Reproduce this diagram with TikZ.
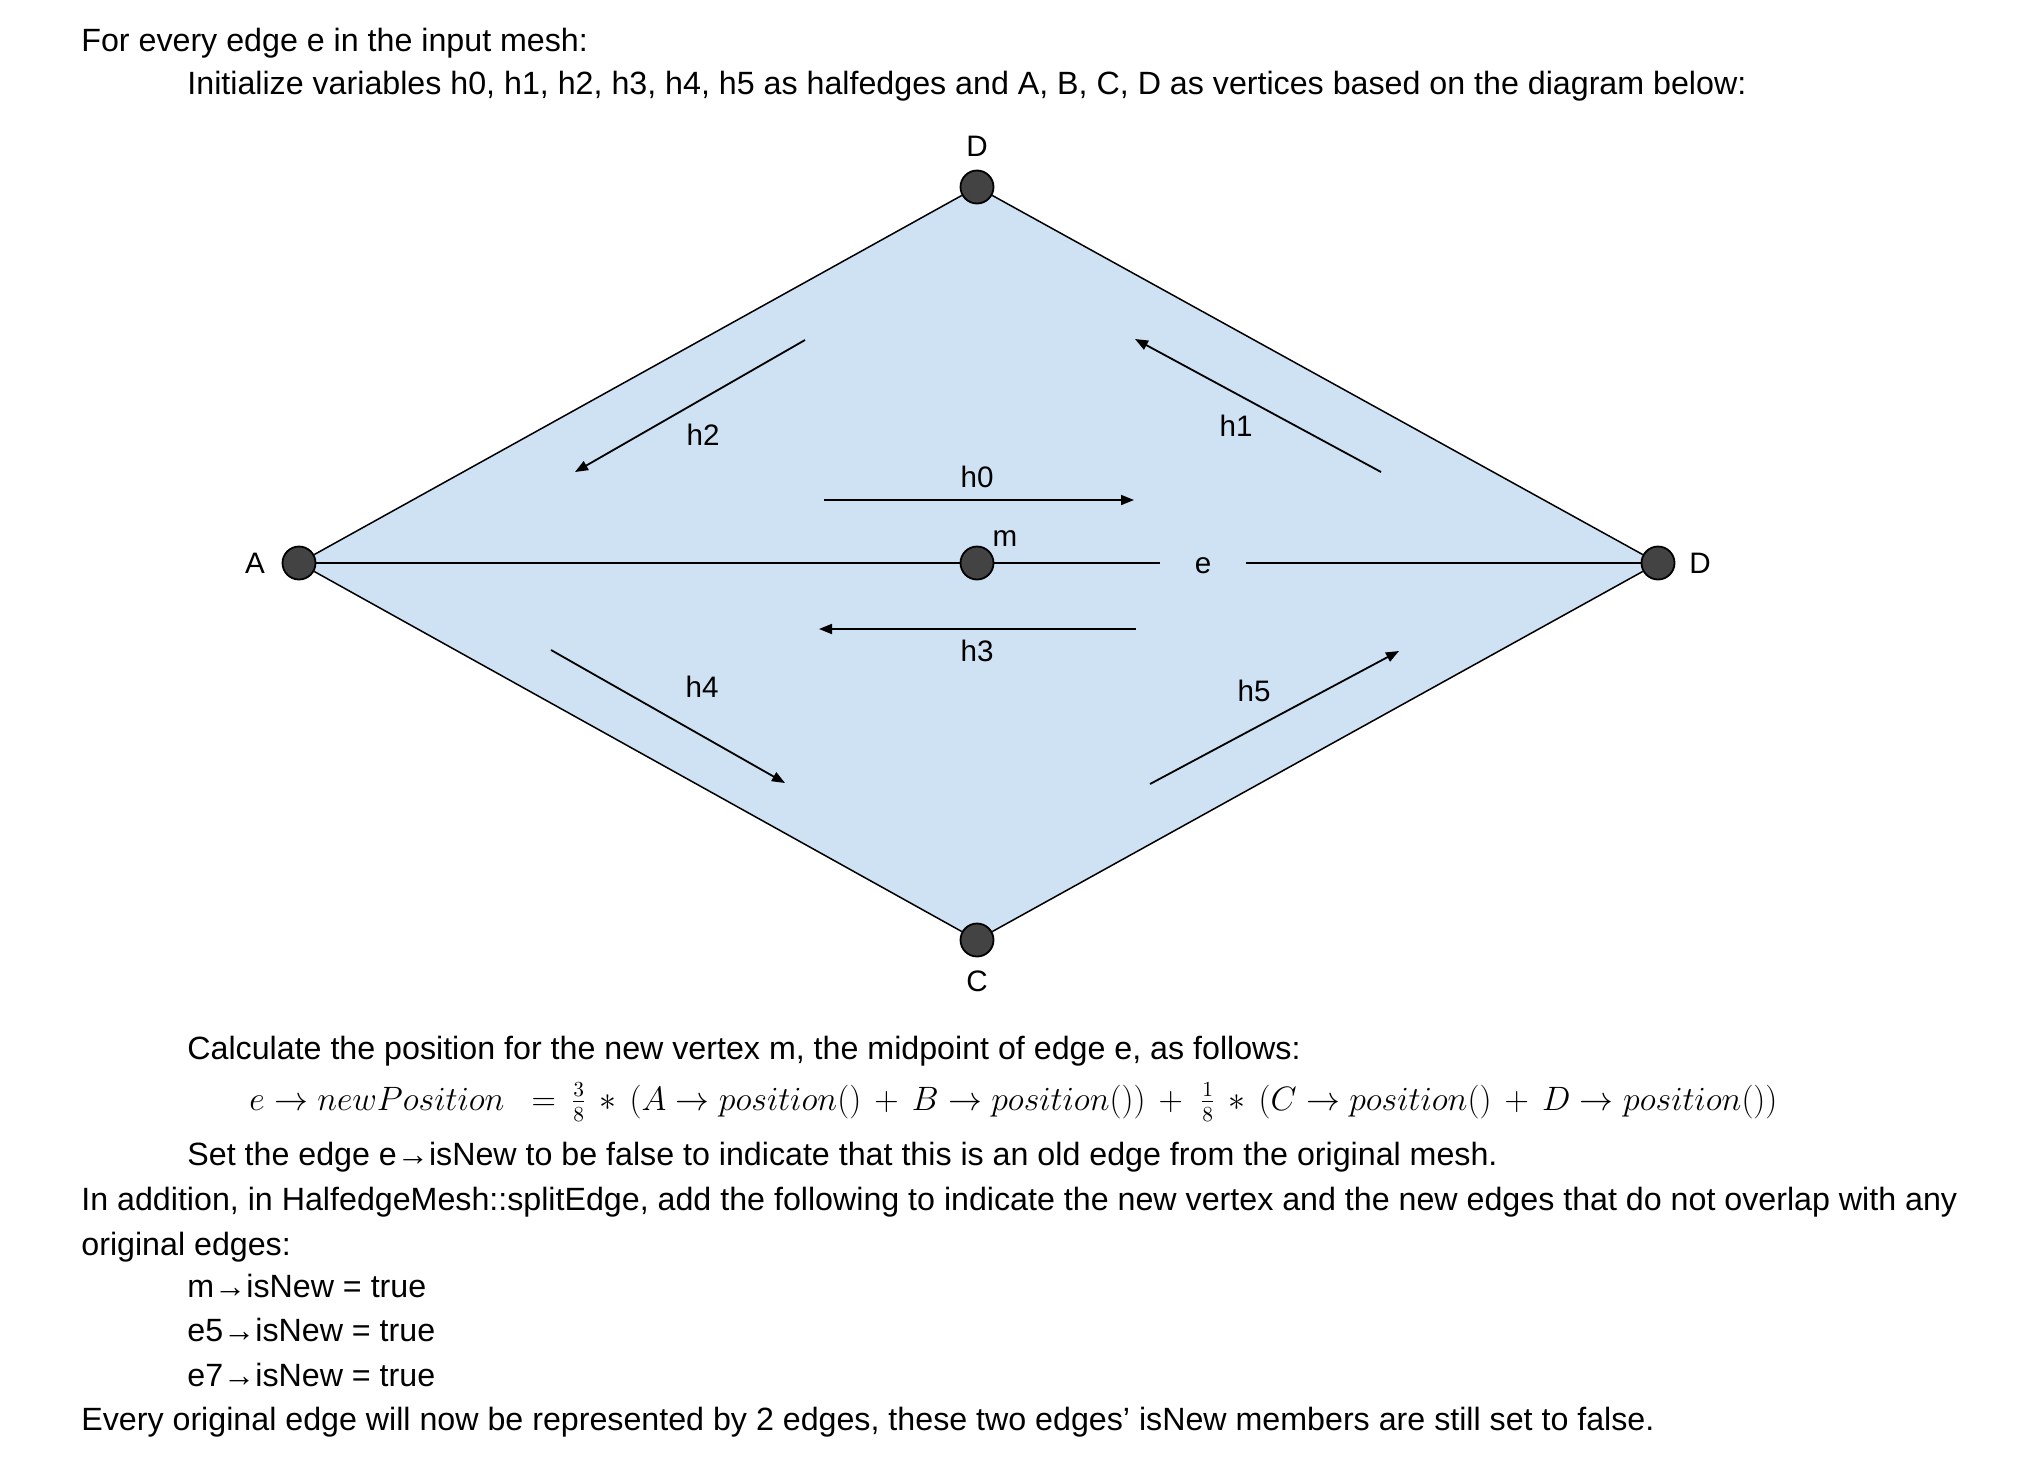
\documentclass[tikz,border=0pt]{standalone}
\usepackage[no-math]{fontspec}
\usepackage{amsmath,graphicx}
\setmainfont{Liberation Sans}
\usetikzlibrary{arrows.meta,backgrounds}
\definecolor{MeshBlue}{HTML}{CFE2F3}
\definecolor{VertGray}{HTML}{434343}

\begin{document}
\begin{tikzpicture}[x=0.5pt, y=-0.5pt,
        vert/.style={circle, draw, line width=0.9pt, fill=VertGray, inner sep=0pt, minimum size=16.5pt},
        lbl/.style={inner sep=0pt, font=\fontsize{14.8}{17}\selectfont},
        txt/.style={anchor=base west, inner sep=0pt, font=\fontsize{16.1}{19}\selectfont},
        half/.style={line width=0.9pt, -{Triangle[length=6.5pt, width=5pt]}},
        edge/.style={line width=0.75pt}]
        \useasboundingbox (0,0) rectangle (2022,1478);
        % vertices
        \node[vert] (D) at (977,187) {};
        \node[vert] (A) at (299,563) {};
        \node[vert] (B) at (1658,563) {};
        \node[vert] (C) at (977,940) {};
        \node[vert] (m) at (977,563) {};
        \begin{scope}[on background layer]
            \fill[MeshBlue] (A.center) -- (D.center) -- (B.center) -- (C.center) -- cycle;
        \end{scope}
        \node[lbl] at (977,146) {D};
        \node[lbl] at (255,563) {A};
        \node[lbl] at (1700,563) {D};
        \node[lbl] at (977,981) {C};
        \node[lbl] at (1005,539) {m};
        \node[lbl, minimum width=43pt] (e) at (1203,563) {\vphantom{h}e};
        % edges
        \draw[edge] (A) -- (D); \draw[edge] (D) -- (B);
        \draw[edge] (B) -- (C); \draw[edge] (C) -- (A);
        \draw[edge] (A) -- (m); \draw[edge] (m) -- (e); \draw[edge] (e) -- (B);
        % halfedges
        \coordinate (h0s) at (824,500);  \coordinate (h0e) at (1134,500);
        \coordinate (h1s) at (1381,472); \coordinate (h1e) at (1135,339);
        \coordinate (h2s) at (805,340);  \coordinate (h2e) at (575,472);
        \coordinate (h3s) at (1136,629); \coordinate (h3e) at (819,629);
        \coordinate (h4s) at (551,650);  \coordinate (h4e) at (785,783);
        \coordinate (h5s) at (1150,784); \coordinate (h5e) at (1399,651);
        \draw[half] (h0s) -- (h0e); \draw[half] (h1s) -- (h1e);
        \draw[half] (h2s) -- (h2e); \draw[half] (h3s) -- (h3e);
        \draw[half] (h4s) -- (h4e); \draw[half] (h5s) -- (h5e);
        \node[lbl] at (977,477) {h0};
        \node[lbl] at (1236,426) {h1};
        \node[lbl] at (703,435) {h2};
        \node[lbl] at (977,651) {h3};
        \node[lbl] at (702,687) {h4};
        \node[lbl] at (1254,691) {h5};
        % text
        \node[txt] (t1) at (81,51) {For every edge e in the input mesh:};
        \node[txt] (t2) at (187,94) {Initialize variables h0, h1, h2, h3, h4, h5 as halfedges and A, B, C, D as vertices based on the diagram below:};
        \node[txt] (t3) at (187,1059) {Calculate the position for the new vertex m, the midpoint of edge e, as follows:};
        \node[txt] (f) at (249,1110) {\resizebox{764pt}{!}{$e \rightarrow newPosition\ \ = \,\frac{3}{8} \,*\, (A \rightarrow position() \,+\, B \rightarrow position()) \,+\; \frac{1}{8} \,*\, (C \rightarrow position() \,+\, D \rightarrow position())$}};
        \node[txt] (t4) at (187,1165) {Set the edge e→isNew to be false to indicate that this is an old edge from the original mesh.};
        \node[txt] (t5) at (81,1210) {In addition, in HalfedgeMesh::splitEdge, add the following to indicate the new vertex and the new edges that do not overlap with any};
        \node[txt] (t6) at (81,1255) {original edges:};
        \node[txt] (t7) at (187,1297) {m→isNew = true};
        \node[txt] (t8) at (187,1341) {e5→isNew = true};
        \node[txt] (t9) at (187,1386) {e7→isNew = true};
        \node[txt] (t10) at (81,1430) {Every original edge will now be represented by 2 edges, these two edges’ isNew members are still set to false.};
    \end{tikzpicture}
\end{document}
